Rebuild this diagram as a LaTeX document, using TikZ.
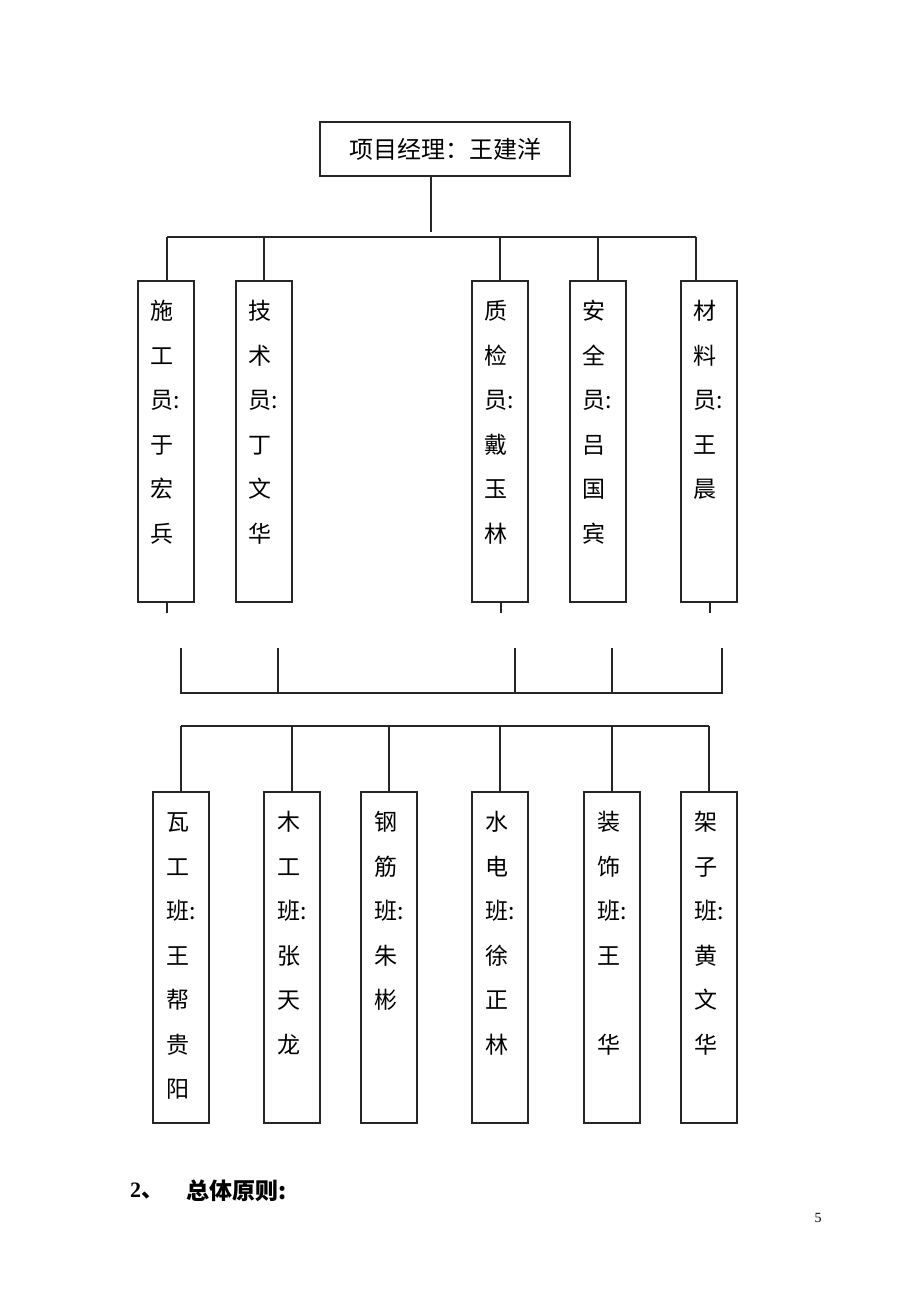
\documentclass[tikz,border=0pt]{standalone}
\usepackage{fontspec}
\setmainfont{Liberation Serif}
\newfontfamily\cjk{Noto Sans CJK SC}
\tikzset{
  x=1pt, y=-1pt,
  ln/.style={line width=1.2pt, draw=black!85},
  box/.style={ln, draw, rectangle, inner sep=0pt},
  chr/.style={font=\cjk\fontsize{23}{26}\selectfont, inner sep=0pt, text height=19.3pt, text depth=2.3pt, anchor=west},
}
\newcommand\colchars[4]{%
  \foreach \c [count=\i] in {#4} {
    \node[chr] (#1-\i) at (#2, {#3 + 30 + 44.5*(\i-1)}) {\c};
  }%
}
\begin{document}
\begin{tikzpicture}
\useasboundingbox (0,0) rectangle (920,1302);
\fill[white] (0,0) rectangle (920,1302);

% top box
\node[box, minimum width=250pt, minimum height=54pt] (pm) at (445,149)
  {\cjk\fontsize{24}{28}\selectfont 项目经理：王建洋};

% staff boxes
\foreach \n/\x in {s1/166, s2/264, s3/500, s4/598, s5/709}
  \node[box, minimum width=56pt, minimum height=321pt] (\n) at (\x,441.5) {};

\colchars{c1}{150}{281}{施,工,员:,于,宏,兵}
\colchars{c2}{248}{281}{技,术,员:,丁,文,华}
\colchars{c3}{484}{281}{质,检,员:,戴,玉,林}
\colchars{c4}{582}{281}{安,全,员:,吕,国,宾}
\colchars{c5}{693}{281}{材,料,员:,王,晨}

% top connectors
\coordinate (pmEnd) at (431,232);
\coordinate (barL) at (167,237);
\coordinate (barR) at (696,237);
\draw[ln] (pm.south -| pmEnd) -- (pmEnd);
\draw[ln] (barL) -- (barR);
\draw[ln] (barL) -- (barL |- s1.north);
\draw[ln] (s2.north |- barL) -- (s2.north);
\draw[ln] (s3.north |- barL) -- (s3.north);
\draw[ln] (s4.north |- barL) -- (s4.north);
\draw[ln] (barR) -- (barR |- s5.north);

% ticks below staff boxes
\coordinate (t1) at (167,613);
\coordinate (t3) at (501,613);
\coordinate (t5) at (710,613);
\draw[ln] (s1.south -| t1) -- (t1);
\draw[ln] (s3.south -| t3) -- (t3);
\draw[ln] (s5.south -| t5) -- (t5);

% floating bracket
\coordinate (k1) at (181,648);
\coordinate (k2) at (278,648);
\coordinate (k3) at (515,648);
\coordinate (k4) at (612,648);
\coordinate (k5) at (722,648);
\coordinate (kL) at (181,693);
\coordinate (kR) at (722,693);
\draw[ln] (k1) -- (kL) -- (kR) -- (k5);
\draw[ln] (k2) -- (k2 |- kL);
\draw[ln] (k3) -- (k3 |- kL);
\draw[ln] (k4) -- (k4 |- kL);

% crew boxes
\foreach \n/\x in {w1/181, w2/292, w3/389, w4/500, w5/612, w6/709}
  \node[box, minimum width=56pt, minimum height=331pt] (\n) at (\x,957.5) {};

\colchars{d1}{166}{792}{瓦,工,班:,王,帮,贵,阳}
\colchars{d2}{277}{792}{木,工,班:,张,天,龙}
\colchars{d3}{374}{792}{钢,筋,班:,朱,彬}
\colchars{d4}{485}{792}{水,电,班:,徐,正,林}
\colchars{d5}{597}{792}{装,饰,班:,王,{},华}
\colchars{d6}{694}{792}{架,子,班:,黄,文,华}

% crew connectors
\coordinate (cbL) at (181,726);
\coordinate (cbR) at (709,726);
\draw[ln] (cbL) -- (cbR);
\foreach \n in {w1,w2,w3,w4,w5,w6}
  \draw[ln] (\n.north |- cbL) -- (\n.north);

% heading and page number
\node[anchor=west, inner sep=0pt, font=\bfseries\fontsize{22}{26}\selectfont] (num) at (130,1191) {2\cjk 、};
\node[anchor=west, inner sep=0pt, font=\cjk\bfseries\fontsize{23}{26}\selectfont] (head) at (186,1191) {总体原则:};
\node[inner sep=0pt, font=\fontsize{14}{16}\selectfont] (page) at (818,1218) {5};
\end{tikzpicture}
\end{document}
